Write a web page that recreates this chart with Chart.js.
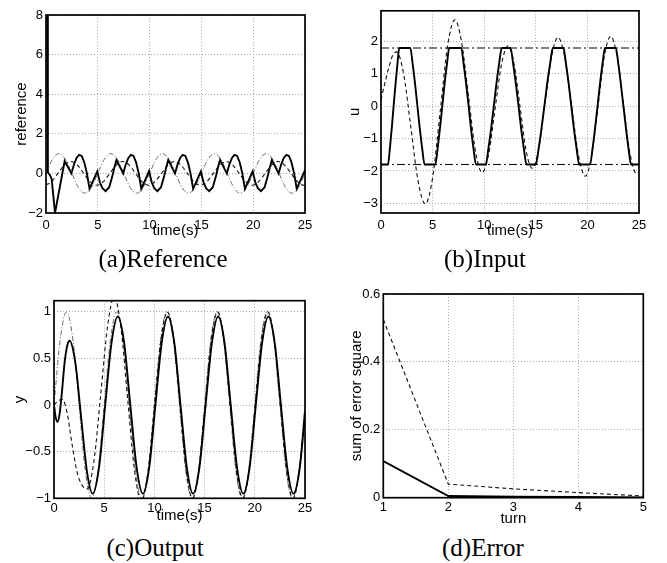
<!DOCTYPE html>
<html><head><meta charset="utf-8">
<script src="https://cdn.jsdelivr.net/npm/chart.js@4"></script>
<style>
html,body{margin:0;padding:0;background:#fff;}
#wrap{position:relative;width:667px;height:563px;overflow:hidden;background:#fff;}
.pane{position:absolute;}
.cap{position:absolute;font-family:"Liberation Serif","Times New Roman",serif;font-size:25px;color:#000;white-space:nowrap;transform:translate(-50%,-50%);line-height:1;}
</style></head><body>
<div id="wrap">
  <canvas id="ca" class="pane" width="330" height="240" style="left:0;top:0"></canvas>
  <canvas id="cb" class="pane" width="337" height="240" style="left:330px;top:0"></canvas>
  <canvas id="cc" class="pane" width="330" height="260" style="left:0;top:270px"></canvas>
  <canvas id="cd" class="pane" width="337" height="260" style="left:330px;top:270px"></canvas>
  <div class="cap" style="left:163px;top:258px">(a)Reference</div>
  <div class="cap" style="left:485px;top:258px">(b)Input</div>
  <div class="cap" style="left:155px;top:547px">(c)Output</div>
  <div class="cap" style="left:483px;top:547px">(d)Error</div>
</div>
<script>
// ---------- tick labels ----------
const timeTicks = [0, 5, 10, 15, 20, 25];
const refYTicks = [-2, 0, 2, 4, 6, 8];
const uYTicks = [-3, -2, -1, 0, 1, 2];
const yYTicks = [-1, -0.5, 0, 0.5, 1];
const errYTicks = [0, 0.2, 0.4, 0.6];
const turnTicks = [1, 2, 3, 4, 5];

// ---------- reference sinusoid (panels a and c, dash-dot) ----------
const refTime = [0,0.625,1.25,1.875,2.5,3.125,3.75,4.375,5,5.625,6.25,6.875,7.5,8.125,8.75,9.375,10,10.625,11.25,11.875,12.5,13.125,13.75,14.375,15,15.625,16.25,16.875,17.5,18.125,18.75,19.375,20,20.625,21.25,21.875,22.5,23.125,23.75,24.375,25];
const refValue = [0,0.71,1,0.71,0,-0.71,-1,-0.71, 0,0.71,1,0.71,0,-0.71,-1,-0.71, 0,0.71,1,0.71,0,-0.71,-1,-0.71, 0,0.71,1,0.71,0,-0.71,-1,-0.71, 0,0.71,1,0.71,0,-0.71,-1,-0.71, 0];

// ---------- panel (a): dashed ----------
const refDashTime = [0,0.525,1.15,1.775,2.4,3.025,3.65,4.275,4.9,5.525,6.15,6.775,7.4,8.025,8.65,9.275,9.9,10.525,11.15,11.775,12.4,13.025,13.65,14.275,14.9,15.525,16.15,16.775,17.4,18.025,18.65,19.275,19.9,20.525,21.15,21.775,22.4,23.025,23.65,24.275,24.9,25];
const refDashValue = [-0.59, -0.42,0,0.42,0.6,0.42,0,-0.42,-0.6, -0.42,0,0.42,0.6,0.42,0,-0.42,-0.6, -0.42,0,0.42,0.6,0.42,0,-0.42,-0.6, -0.42,0,0.42,0.6,0.42,0,-0.42,-0.6, -0.42,0,0.42,0.6,0.42,0,-0.42,-0.6, -0.6];

// ---------- panel (a): solid ----------
const refSolidTime = [0,0.12,0.18,0.4,0.55,0.87,1.8,
 2.45,2.7,2.95,3.2,3.45,3.7,3.95,4.2,4.95,5.2,5.45,5.75,6.1,6.4,6.6,6.8,
 7.45,7.7,7.95,8.2,8.45,8.7,8.95,9.2,9.95,10.2,10.45,10.75,11.1,11.4,11.6,11.8,
 12.45,12.7,12.95,13.2,13.45,13.7,13.95,14.2,14.95,15.2,15.45,15.75,16.1,16.4,16.6,16.8,
 17.45,17.7,17.95,18.2,18.45,18.7,18.95,19.2,19.95,20.2,20.45,20.75,21.1,21.4,21.6,21.8,
 22.45,22.7,22.95,23.2,23.45,23.7,23.95,24.2,24.95,25];
const refSolidValue = [8,8,0.05,-0.1,-0.3,-2,0.62,
 0,0.45,0.78,0.93,0.88,0.55,0,-0.78,0.1,-0.45,-0.75,-0.9,-0.7,-0.15,0.3,0.68,
 0,0.45,0.78,0.93,0.88,0.55,0,-0.78,0.12,-0.45,-0.75,-0.9,-0.7,-0.15,0.3,0.68,
 0,0.45,0.78,0.93,0.88,0.55,0,-0.78,0.1,-0.45,-0.75,-0.9,-0.7,-0.15,0.3,0.68,
 0,0.45,0.78,0.93,0.88,0.55,0,-0.78,0.1,-0.45,-0.75,-0.9,-0.7,-0.15,0.3,0.68,
 0,0.45,0.78,0.93,0.88,0.55,0,-0.78,0.1,0.05];

// ---------- panel (b) ----------
const uLimits = [1.8, -1.8];
const uSatTime = [0,0.68,0.86,1.04,1.22,1.41,1.59,1.77,
 2.84,3.07,3.3,3.53,3.76,3.99,4.22,
 5.26,5.49,5.71,5.94,6.16,6.39,6.61,
 7.77,8.01,8.25,8.49,8.72,8.96,9.2,
 10.15,10.41,10.67,10.93,11.18,11.44,11.7,
 12.55,12.81,13.07,13.33,13.58,13.84,14.1,
 15.0,15.28,15.55,15.83,16.1,16.38,16.65,
 17.68,17.93,18.19,18.44,18.69,18.95,19.2,
 20.26,20.5,20.74,20.98,21.22,21.46,21.7,
 22.75,23.0,23.24,23.49,23.74,23.98,24.23,
 25];
const uSatValue = [-1.8,-1.8,-1.3,-0.69,0,0.69,1.3,1.8,
 1.8,1.3,0.69,0,-0.69,-1.3,-1.8,
 -1.8,-1.3,-0.69,0,0.69,1.3,1.8,
 1.8,1.3,0.69,0,-0.69,-1.3,-1.8,
 -1.8,-1.3,-0.69,0,0.69,1.3,1.8,
 1.8,1.3,0.69,0,-0.69,-1.3,-1.8,
 -1.8,-1.3,-0.69,0,0.69,1.3,1.8,
 1.8,1.3,0.69,0,-0.69,-1.3,-1.8,
 -1.8,-1.3,-0.69,0,0.69,1.3,1.8,
 1.8,1.3,0.69,0,-0.69,-1.3,-1.8,
 -1.8];
const uCmdTime = [0,0.4,0.8,1.15,1.5, 2.2,2.9,3.6,4.3, 5.01,5.73,6.44,7.15, 7.81,8.48,9.14,9.8, 10.43,11.05,11.68,12.3, 12.89,13.48,14.06,14.65, 15.28,15.9,16.53,17.15, 17.81,18.48,19.14,19.8, 20.41,21.03,21.64,22.25, 22.88,23.5,24.13,24.75, 25];
const uCmdValue = [0.2,0.75,1.25,1.58,1.68, 0.99,-0.67,-2.33,-3.02, -2.19,-0.18,1.84,2.67, 1.98,0.31,-1.36,-2.05, -1.48,-0.09,1.3,1.87, 1.31,-0.03,-1.37,-1.92, -1.33,0.11,1.54,2.13, 1.5,-0.02,-1.53,-2.16, -1.53,0,1.53,2.16, 1.54,0.04,-1.46,-2.08, -2.02];

// ---------- panel (c) ----------
const yDashTime = [0,0.45,0.85,1.3,1.8,2.3,2.8,3.3, 3.98,4.65,5.33,6.0, 6.68,7.35,8.03,8.7, 9.35,10.0,10.65,11.3, 11.93,12.55,13.18,13.8, 14.43,15.05,15.68,16.3, 16.93,17.55,18.18,18.8, 19.43,20.05,20.68,21.3, 21.93,22.55,23.18,23.8, 24.43,25];
const yDashValue = [0,0.05,0.06,-0.08,-0.42,-0.72,-0.86,-0.9, -0.6,0.11,0.84,1.16, 0.82,0.05,-0.71,-1.03, -0.72,-0.01,0.7,1.0, 0.71,0,-0.71,-1.0, -0.71,0,0.71,1.0, 0.71,0,-0.71,-1.0, -0.71,0,0.71,1.0, 0.71,0,-0.71,-1.0, -0.71,-0.06];
const ySolidTime = [0,0.15,0.35,0.55,0.8,1.05,1.3,1.55, 2.13,2.7,3.28,3.85, 4.48,5.1,5.73,6.35, 6.98,7.6,8.23,8.85, 9.48,10.1,10.73,11.35, 11.98,12.6,13.23,13.85, 14.48,15.1,15.73,16.35, 16.98,17.6,18.23,18.85, 19.48,20.1,20.73,21.35, 21.98,22.6,23.23,23.85, 24.48,25];
const ySolidValue = [0,-0.12,-0.18,-0.1,0.15,0.45,0.63,0.69, 0.45,-0.13,-0.71,-0.95, -0.67,0,0.67,0.95, 0.67,0,-0.67,-0.95, -0.67,0,0.67,0.95, 0.67,0,-0.67,-0.95, -0.67,0,0.67,0.95, 0.67,0,-0.67,-0.95, -0.67,0,0.67,0.95, 0.67,0,-0.67,-0.95, -0.67,-0.08];

// ---------- panel (d) ----------
const turns = [1, 2, 3, 4, 5];
const errDashed = [0.525, 0.04, 0.026, 0.015, 0.005];
const errSolid = [0.108, 0.005, 0.003, 0.002, 0.001];

// ---------- helpers ----------
const FONT = '"Liberation Sans", Arial, Helvetica, sans-serif';
const GRID = '#a8a8a8';
const fmt = v => String(v).replace('-', '\u2212');
const pts = (xs, ys) => xs.map((x, i) => ({x: x, y: ys[i]}));

const framePlugin = {
  id: 'frame',
  afterDatasetsDraw(chart) {
    const a = chart.chartArea, ctx = chart.ctx;
    ctx.save();
    ctx.strokeStyle = '#000';
    ctx.lineWidth = 1.7;
    ctx.strokeRect(a.left, a.top, a.right - a.left, a.bottom - a.top);
    ctx.restore();
  }
};

function solid(data, mono) {
  return {data, borderColor:'#000', borderWidth:1.9, pointRadius:0, fill:false,
          cubicInterpolationMode: mono ? 'monotone' : 'default', tension:0};
}
function dashed(data, mono) {
  return {data, borderColor:'#111', borderWidth:1.1, borderDash:[4,3], pointRadius:0, fill:false,
          cubicInterpolationMode: mono ? 'monotone' : 'default', tension:0};
}
function dashdot(data, mono, color) {
  return {data, borderColor:color, borderWidth:1, borderDash:[5,2,1,2], pointRadius:0, fill:false,
          cubicInterpolationMode: mono ? 'monotone' : 'default', tension:0};
}

function opts(p) {
  const tickFont = {family: FONT, size: 13};
  const titleFont = {family: FONT, size: 15};
  return {
    responsive:false, animation:false, events:[],
    layout:{padding:{left:0, top:p.top, right:p.right, bottom:0}},
    plugins:{legend:{display:false}, tooltip:{enabled:false}},
    scales:{
      x:{type:'linear', min:p.xmin, max:p.xmax,
        afterBuildTicks: s => { s.ticks = p.xticks.map(v => ({value:v})); },
        afterFit: s => { s.height = p.xh; },
        ticks:{autoSkip:false, maxRotation:0, padding:p.xtp, color:'#000', font:tickFont, callback: v => fmt(v)},
        grid:{color:GRID, lineWidth:1, drawTicks:false},
        border:{display:false, dash:[1,2]},
        title:{display:true, text:p.xt, color:'#000', font:titleFont, padding:{top:0, bottom:p.xtb}}
      },
      y:{type:'linear', min:p.ymin, max:p.ymax,
        afterBuildTicks: s => { s.ticks = p.yticks.map(v => ({value:v})); },
        afterFit: s => { s.width = p.yw; },
        ticks:{autoSkip:false, padding:3, color:'#000', font:tickFont, callback: v => fmt(v)},
        grid:{color:GRID, lineWidth:1, drawTicks:false},
        border:{display:false, dash:[1,2]},
        title:{display:true, text:p.yt, color:'#000', font:titleFont, padding:{top:p.ytp, bottom:0}}
      }
    }
  };
}

// (a) Reference
new Chart(document.getElementById('ca'), {
  type:'line',
  data:{datasets:[
    solid(pts(refSolidTime, refSolidValue), false),
    dashed(pts(refDashTime, refDashValue), true),
    dashdot(pts(refTime, refValue), true, '#6a6a6a')
  ]},
  options: opts({top:15, right:25, xmin:0, xmax:25, xticks:timeTicks, xh:27, xtp:4.2, xt:'time(s)', xtb:0,
                 ymin:-2, ymax:8, yticks:refYTicks, yw:46, yt:'reference', ytp:13}),
  plugins:[framePlugin]
});

// (b) Input
new Chart(document.getElementById('cb'), {
  type:'line',
  data:{datasets:[
    solid(pts(uSatTime, uSatValue), true),
    dashed(pts(uCmdTime, uCmdValue), true),
    {data:pts([0,25],[uLimits[0],uLimits[0]]), borderColor:'#000', borderWidth:1, borderDash:[8,3,2,3], pointRadius:0},
    {data:pts([0,25],[uLimits[1],uLimits[1]]), borderColor:'#000', borderWidth:1, borderDash:[8,3,2,3], pointRadius:0}
  ]},
  options: opts({top:10, right:28, xmin:0, xmax:25, xticks:timeTicks, xh:27, xtp:4.2, xt:'time(s)', xtb:0,
                 ymin:-3.3, ymax:2.95, yticks:uYTicks, yw:51, yt:'u', ytp:16}),
  plugins:[framePlugin]
});

// (c) Output
new Chart(document.getElementById('cc'), {
  type:'line',
  data:{datasets:[
    solid(pts(ySolidTime, ySolidValue), true),
    dashed(pts(yDashTime, yDashValue), true),
    dashdot(pts(refTime, refValue), true, '#6a6a6a')
  ]},
  options: opts({top:30.7, right:25, xmin:0, xmax:25, xticks:timeTicks, xh:31.7, xtp:1.9, xt:'time(s)', xtb:5,
                 ymin:-1, ymax:1.12, yticks:yYTicks, yw:54, yt:'y', ytp:11}),
  plugins:[framePlugin]
});

// (d) Error
new Chart(document.getElementById('cd'), {
  type:'line',
  data:{datasets:[
    solid(pts(turns, errSolid), false),
    dashed(pts(turns, errDashed), false)
  ]},
  options: opts({top:24, right:23.7, xmin:1, xmax:5, xticks:turnTicks, xh:32.3, xtp:1.5, xt:'turn', xtb:2,
                 ymin:0, ymax:0.6, yticks:errYTicks, yw:53.3, yt:'sum of error square', ytp:18}),
  plugins:[framePlugin]
});
</script>
</body></html>
